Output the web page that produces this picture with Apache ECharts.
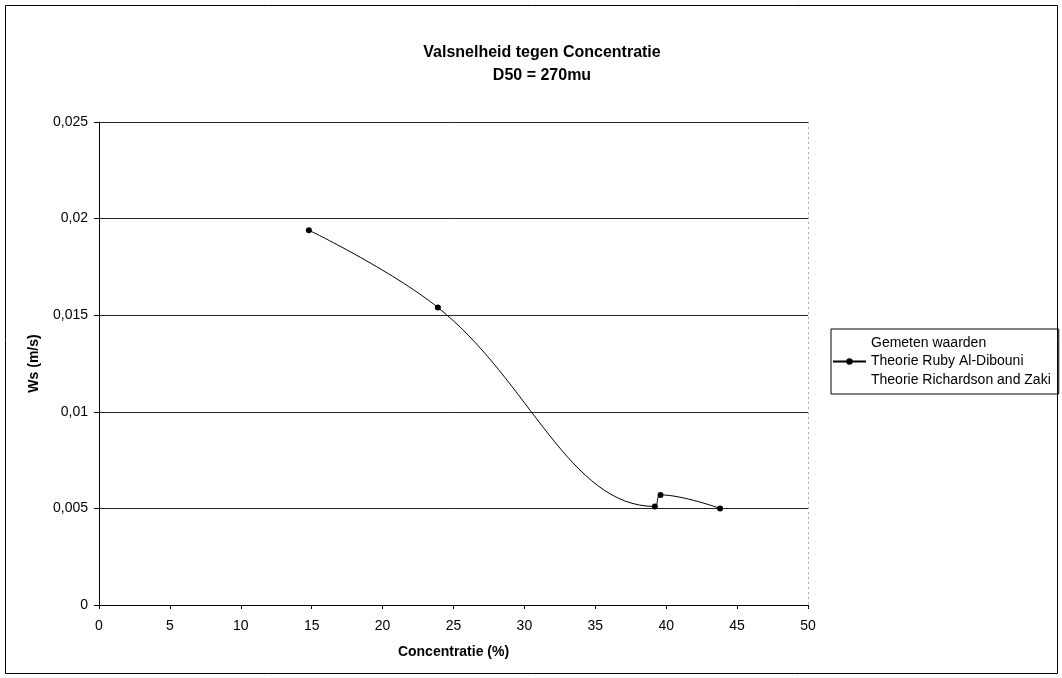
<!DOCTYPE html>
<html>
<head>
<meta charset="utf-8">
<script src="https://cdn.jsdelivr.net/npm/echarts@6/dist/echarts.min.js"></script>
<style>
    html, body { margin: 0; padding: 0; background: #fff; }
    #chart { width: 1062px; height: 678px; }
</style>
</head>
<body>
<div id="chart"></div>
<script>
// values
let concentratie = [14.8, 23.9, 39.2, 39.6, 43.8];     // %
let wsRuby = [0.0194, 0.0154, 0.0051, 0.0057, 0.0050];  // m/s
let gemeten = [];        // no visible marks in the scan
let richardson = [];     // no visible marks in the scan
let legendNames = ['Gemeten waarden', 'Theorie Ruby Al-Dibouni', 'Theorie Richardson and Zaki'];

let font = 'Arial, "Liberation Sans", sans-serif';

let fmtComma = function(v){
    return String(+v.toFixed(3)).replace('.', ',');
};

let chart = echarts.init(document.getElementById('chart'));

chart.setOption({
    animation: false,
    backgroundColor: '#fff',
    title: {
        text: 'Valsnelheid tegen Concentratie\nD50 = 270mu',
        left: 537,
        textAlign: 'center',
        top: 36,
        textStyle: {
            fontFamily: font,
            fontSize: 16,
            fontWeight: 'bold',
            color: '#000',
            lineHeight: 23
        }
    },
    grid: {
        left: 99,
        right: 254,
        top: 122,
        bottom: 73
    },
    legend: {
        orient: 'vertical',
        left: 831,
        top: 329,
        padding: [6, 8, 6, 1],
        itemGap: 2.5,
        itemWidth: 33,
        itemHeight: 8,
        borderColor: '#000',
        borderWidth: 1,
        borderRadius: 0,
        textStyle: {
            fontFamily: font,
            fontSize: 14,
            color: '#000',
            lineHeight: 16
        },
        data: [
            { name: legendNames[0], icon: 'none' },
            { name: legendNames[1] },
            { name: legendNames[2], icon: 'none' }
        ]
    },
    xAxis: {
        type: 'value',
        min: 0,
        max: 50,
        interval: 5,
        name: 'Concentratie (%)',
        nameLocation: 'middle',
        nameGap: 40,
        nameTextStyle: { fontFamily: font, fontSize: 14, fontWeight: 'bold', color: '#000' },
        axisLine: { onZero: false, lineStyle: { color: '#000', width: 1 } },
        axisTick: { show: true, inside: false, length: 4, lineStyle: { color: '#000' } },
        axisLabel: { fontFamily: font, fontSize: 14, color: '#000', margin: 14 },
        splitLine: { show: false }
    },
    yAxis: {
        type: 'value',
        min: 0,
        max: 0.025,
        interval: 0.005,
        name: 'Ws (m/s)',
        nameLocation: 'middle',
        nameGap: 58,
        nameRotate: 90,
        nameTextStyle: { fontFamily: font, fontSize: 14, fontWeight: 'bold', color: '#000' },
        axisLine: { show: true, lineStyle: { color: '#000', width: 1 } },
        axisTick: { show: true, inside: false, length: 5, lineStyle: { color: '#000' } },
        axisLabel: { fontFamily: font, fontSize: 14, color: '#000', margin: 11, formatter: fmtComma },
        splitLine: { show: true, lineStyle: { color: '#222', width: 1 } }
    },
    series: [
        {
            name: legendNames[0],
            type: 'scatter',
            data: gemeten,
            itemStyle: { color: '#000' }
        },
        {
            name: legendNames[1],
            type: 'line',
            smooth: 0.4,
            symbol: 'circle',
            symbolSize: 6,
            showSymbol: true,
            lineStyle: { color: '#000', width: 1 },
            itemStyle: { color: '#000' },
            data: concentratie.map((c, i) => [c, wsRuby[i]])
        },
        {
            name: legendNames[2],
            type: 'line',
            data: richardson,
            lineStyle: { color: '#000' },
            itemStyle: { color: '#000' }
        }
    ],
    graphic: [
        {
            // outer chart frame
            type: 'rect',
            shape: { x: 5.5, y: 5.5, width: 1052, height: 668 },
            style: { fill: null, stroke: '#000', lineWidth: 1 },
            silent: true
        },
        {
            // dotted right border of the plot area
            type: 'line',
            shape: { x1: 808.5, y1: 122, x2: 808.5, y2: 605 },
            style: { stroke: '#aaa', lineWidth: 1, lineDash: [2, 3] },
            silent: true
        }
    ]
});

window.addEventListener('resize', function(){
    chart.resize();
});
</script>
</body>
</html>
